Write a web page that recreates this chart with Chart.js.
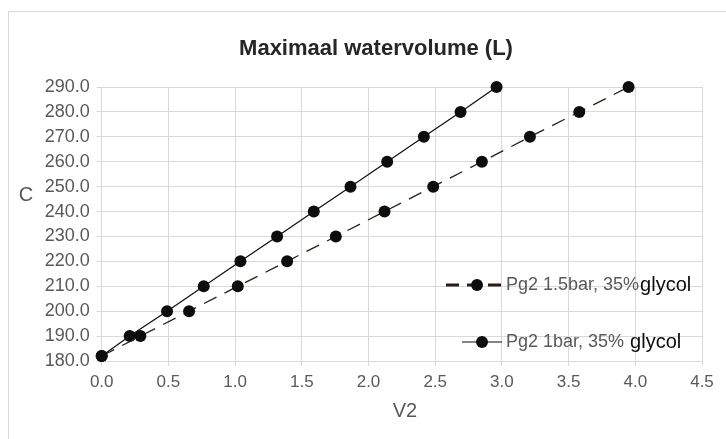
<!DOCTYPE html>
<html lang="nl">
<head>
  <meta charset="UTF-8" />
  <title>Maximaal watervolume (L)</title>
  <script src="https://cdn.jsdelivr.net/npm/chart.js"></script>
  <style>
    html, body { margin: 0; padding: 0; background: #ffffff; overflow: hidden; }
    #wrap { width: 726px; height: 439px; position: relative; }
  </style>
</head>
<body>
  <div id="wrap"><canvas id="volChart" width="726" height="439"></canvas></div>
  <script>
    // C values (y axis), shared by both series
    const capacity = [182, 190, 200, 210, 220, 230, 240, 250, 260, 270, 280, 290];
    // V2 values
    const v2Bar15 = [0, 0.29, 0.655, 1.02, 1.39, 1.755, 2.12, 2.485, 2.85, 3.21, 3.58, 3.95];
    const v2Bar1  = [0, 0.21, 0.49, 0.765, 1.04, 1.315, 1.59, 1.865, 2.14, 2.415, 2.69, 2.96];
    const seriesNames = ['Pg2 1.5bar, 35%', 'Pg2 1bar, 35% '];
    const nameSuffix = 'glycol';
    const chartTitle = 'Maximaal watervolume (L)';
    const xTitle = 'V2';
    const yTitle = 'C';

    const FONT = "'Liberation Sans', Arial, sans-serif";

    function toPoints(xs, ys) {
      return xs.map((x, i) => ({ x: x, y: ys[i] }));
    }

    // draws frame, title, axis titles and the legend
    const decor = {
      id: 'decor',
      beforeDraw(chart) {
        const ctx = chart.ctx;
        ctx.save();
        ctx.strokeStyle = '#d9d9d9';
        ctx.lineWidth = 1;
        ctx.strokeRect(8.5, 11.5, 760, 460);
        ctx.restore();
      },
      afterDraw(chart) {
        const ctx = chart.ctx;
        ctx.save();
        ctx.textBaseline = 'middle';
        ctx.textAlign = 'center';
        ctx.fillStyle = '#262626';
        ctx.font = 'bold 22px ' + FONT;
        ctx.fillText(chartTitle, 376, 49);

        ctx.fillStyle = '#595959';
        ctx.font = '20px ' + FONT;
        ctx.fillText(yTitle, 26, 195);
        ctx.fillText(xTitle, 405, 411);

        // legend
        const rows = [
          { y: 285, ds: 0, x0: 446, x1: 502, dot: 477, width: 3, dash: [13, 8] },
          { y: 342, ds: 1, x0: 462, x1: 502, dot: 482, width: 1.2, dash: [] }
        ];
        rows.forEach(r => {
          const ds = chart.data.datasets[r.ds];
          ctx.strokeStyle = ds.borderColor;
          ctx.lineWidth = r.width;
          ctx.setLineDash(r.dash);
          ctx.beginPath();
          ctx.moveTo(r.x0, r.y);
          ctx.lineTo(r.x1, r.y);
          ctx.stroke();
          ctx.setLineDash([]);
          ctx.fillStyle = ds.pointBackgroundColor;
          ctx.beginPath();
          ctx.arc(r.dot, r.y, 6, 0, Math.PI * 2);
          ctx.fill();

          ctx.textAlign = 'left';
          ctx.fillStyle = '#595959';
          ctx.font = '18px ' + FONT;
          const name = seriesNames[r.ds];
          ctx.fillText(name, 506, r.y);
          const w = ctx.measureText(name).width;
          ctx.fillStyle = '#0d0d0d';
          ctx.font = '20px ' + FONT;
          ctx.fillText(nameSuffix, 506 + w + 1, r.y);
        });
        ctx.restore();
      }
    };

    new Chart(document.getElementById('volChart'), {
      type: 'scatter',
      data: {
        datasets: [
          {
            label: seriesNames[0] + nameSuffix,
            data: toPoints(v2Bar15, capacity),
            showLine: true,
            clip: false,
            borderColor: '#2b1d14',
            borderWidth: 1.3,
            borderDash: [14, 9],
            pointRadius: 6,
            pointBackgroundColor: '#0d0d0d',
            pointBorderWidth: 0
          },
          {
            label: seriesNames[1] + nameSuffix,
            data: toPoints(v2Bar1, capacity),
            showLine: true,
            clip: false,
            borderColor: '#0d0d0d',
            borderWidth: 1.2,
            pointRadius: 6,
            pointBackgroundColor: '#0d0d0d',
            pointBorderWidth: 0
          }
        ]
      },
      options: {
        responsive: false,
        animation: false,
        devicePixelRatio: 1,
        layout: { padding: { top: 87, right: 24, left: 0, bottom: 0 } },
        plugins: {
          legend: { display: false },
          title: { display: false },
          tooltip: { enabled: false }
        },
        scales: {
          x: {
            type: 'linear',
            min: 0,
            max: 4.5,
            afterFit(s) { s.height = 78; },
            ticks: {
              stepSize: 0.5,
              padding: 6,
              color: '#595959',
              font: { family: FONT, size: 17 },
              callback: v => v.toFixed(1)
            },
            grid: { color: '#d9d9d9', tickLength: 5 },
            border: { color: '#d9d9d9' }
          },
          y: {
            type: 'linear',
            min: 180,
            max: 290,
            afterFit(s) { s.width = 101.7; },
            ticks: {
              stepSize: 10,
              padding: 7,
              color: '#595959',
              font: { family: FONT, size: 18 },
              callback: v => v.toFixed(1)
            },
            grid: { color: '#d9d9d9', tickLength: 5 },
            border: { color: '#d9d9d9' }
          }
        }
      },
      plugins: [decor]
    });
  </script>
</body>
</html>
